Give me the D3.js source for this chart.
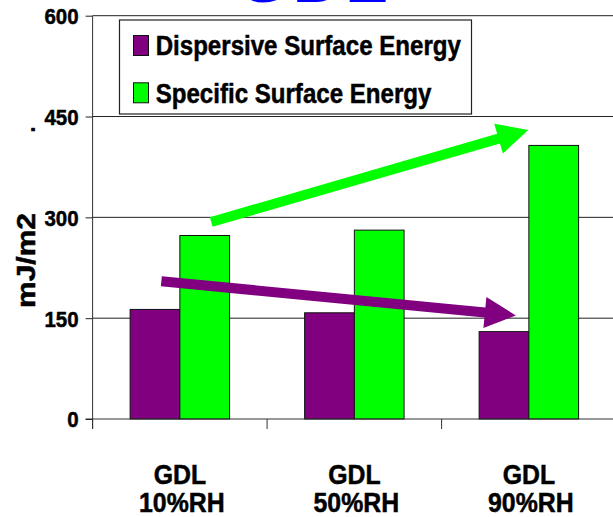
<!DOCTYPE html>
<html>
<head>
<meta charset="utf-8">
<script src="https://cdn.jsdelivr.net/npm/d3@7"></script>
<style>
  html, body { margin: 0; padding: 0; background: #fff; overflow: hidden; }
  svg { display: block; font-family: "Liberation Sans", Arial, sans-serif; font-weight: bold; }
  .heavy { stroke: #000; stroke-width: 0.5px; }
</style>
</head>
<body>
<svg id="chart" width="613" height="517"></svg>
<script>
// Surface energy of the gas diffusion layer at three humidity levels
const categories = ["GDL 10%RH", "GDL 50%RH", "GDL 90%RH"];
const seriesNames = ["Dispersive Surface Energy", "Specific Surface Energy"];
const dispersive = [163, 158, 130];
const specific = [273, 281, 407];
const yTicks = [0, 150, 300, 450, 600];
const yTitle = "mJ/m2";
const chartTitle = "GDL";

// Trend arrows, in category units (x) and mJ/m2 (y): [tailX, tailY, tipX, tipY]
const specificTrend = [0.68, 293, 2.497, 430];
const dispersiveTrend = [0.394, 205, 2.425, 154];

const colors = ["#800080", "#00ff00"];

(function draw() {
  const svg = d3.select("#chart");
  const plotLeft = 92.6, plotBottom = 419, plotTop = 15.7;
  const step = 174.5;

  const x = d3.scaleBand().domain(categories)
    .range([plotLeft, plotLeft + step * categories.length])
    .paddingInner(0.43).paddingOuter(0.215);
  const xs = d3.scaleBand().domain([0, 1]).range([0, x.bandwidth()]);
  const xc = d3.scaleLinear().domain([0, categories.length])
    .range([plotLeft, plotLeft + step * categories.length]);
  const y = d3.scaleLinear().domain([0, 600]).range([plotBottom, plotTop]);

  // shrink text horizontally to the condensed look of the labels
  function condense(sel, factor) {
    sel.each(function () {
      const len = this.getComputedTextLength();
      d3.select(this).attr("textLength", len * factor).attr("lengthAdjust", "spacingAndGlyphs");
    });
  }

  // Title, mostly above the visible area
  svg.append("text").attr("x", 236).attr("y", 1.5)
    .attr("font-size", 70).attr("fill", "#0000ff").attr("letter-spacing", 2)
    .text(chartTitle);

  // Gridlines
  svg.append("g").selectAll("line").data(yTicks.filter(d => d > 0)).join("line")
    .attr("x1", plotLeft).attr("x2", 613)
    .attr("y1", d => y(d)).attr("y2", d => y(d))
    .attr("stroke", "#222").attr("stroke-width", 1);

  // Y axis
  const yAxis = svg.append("g").attr("transform", `translate(${plotLeft},0)`)
    .call(d3.axisLeft(y).tickValues(yTicks).tickSize(7).tickPadding(7));
  yAxis.select(".domain").remove();
  yAxis.selectAll(".tick line").attr("stroke", "#222");
  yAxis.selectAll(".tick text")
    .attr("class", "heavy")
    .attr("font-size", 22).attr("font-weight", "bold").attr("fill", "#000")
    .attr("font-family", "Liberation Sans, Arial, sans-serif").attr("dy", "0.36em");
  condense(yAxis.selectAll(".tick text"), 0.93);
  svg.append("line").attr("x1", plotLeft).attr("x2", plotLeft)
    .attr("y1", plotTop).attr("y2", plotBottom + 10).attr("stroke", "#333");

  // Bars
  const groups = svg.append("g").selectAll("g").data(categories).join("g")
    .attr("transform", d => `translate(${x(d)},0)`);
  groups.selectAll("rect")
    .data((d, i) => [dispersive[i], specific[i]])
    .join("rect")
    .attr("x", (d, j) => xs(j)).attr("width", xs.bandwidth())
    .attr("y", d => y(d)).attr("height", d => y(0) - y(d))
    .attr("fill", (d, j) => colors[j])
    .attr("stroke", "#111").attr("stroke-width", 1);

  // X axis line and category ticks
  svg.append("line").attr("x1", plotLeft - 7).attr("x2", 613)
    .attr("y1", plotBottom).attr("y2", plotBottom).attr("stroke", "#333").attr("stroke-width", 1.2);
  svg.append("g").selectAll("line").data(d3.range(categories.length + 1)).join("line")
    .attr("x1", d => xc(d)).attr("x2", d => xc(d))
    .attr("y1", plotBottom).attr("y2", plotBottom + 10).attr("stroke", "#333");

  // Category labels on two lines
  const lab = svg.append("g").selectAll("text").data(categories).join("text")
    .attr("class", "heavy")
    .attr("text-anchor", "middle").attr("font-size", 27);
  lab.append("tspan").attr("x", d => x(d) + x.bandwidth() / 2).attr("y", 484)
    .text(d => d.split(" ")[0]);
  lab.append("tspan").attr("x", d => x(d) + x.bandwidth() / 2 + 2).attr("y", 512)
    .text(d => d.split(" ")[1]);
  condense(lab.selectAll("tspan"), 0.92);

  // Y axis title
  svg.append("text").attr("class", "heavy")
    .attr("transform", "translate(34.5,260.5) rotate(-90)")
    .attr("text-anchor", "middle").attr("font-size", 25)
    .attr("textLength", 95).attr("lengthAdjust", "spacingAndGlyphs")
    .text(yTitle);
  svg.append("text").attr("transform", "translate(34.5,129.5) rotate(-90)")
    .attr("text-anchor", "middle").attr("font-size", 25).text(".");

  // Trend arrows
  function arrow(t, color) {
    const x0 = xc(t[0]), y0 = y(t[1]), x1 = xc(t[2]), y1 = y(t[3]);
    const dx = x1 - x0, dy = y1 - y0, L = Math.hypot(dx, dy);
    const ux = dx / L, uy = dy / L, nx = -uy, ny = ux;
    const sw = 5, hw = 15.5, hl = 31;
    const bx = x1 - ux * hl, by = y1 - uy * hl;
    const pts = [
      [x0 + nx * sw, y0 + ny * sw], [bx + nx * sw, by + ny * sw], [bx + nx * hw, by + ny * hw],
      [x1, y1],
      [bx - nx * hw, by - ny * hw], [bx - nx * sw, by - ny * sw], [x0 - nx * sw, y0 - ny * sw]
    ];
    svg.append("polygon").attr("points", pts.map(p => p.join(",")).join(" ")).attr("fill", color);
  }
  arrow(specificTrend, colors[1]);
  arrow(dispersiveTrend, colors[0]);

  // Legend
  const lg = svg.append("g");
  lg.append("rect").attr("x", 119.5).attr("y", 20).attr("width", 352).attr("height", 94)
    .attr("fill", "#fff").attr("stroke", "#222").attr("stroke-width", 1.2);
  const items = lg.selectAll("g").data(seriesNames).join("g")
    .attr("transform", (d, i) => `translate(0,${i * 47.3})`);
  items.append("rect").attr("x", 133.5).attr("y", 35.5).attr("width", 15).attr("height", 20)
    .attr("fill", (d, i) => colors[i]).attr("stroke", "#111");
  items.append("text").attr("class", "heavy")
    .attr("x", 155.7).attr("y", 55.3).attr("font-size", 28).text(d => d);
  condense(items.selectAll("text"), 0.86);
})();
</script>
</body>
</html>
